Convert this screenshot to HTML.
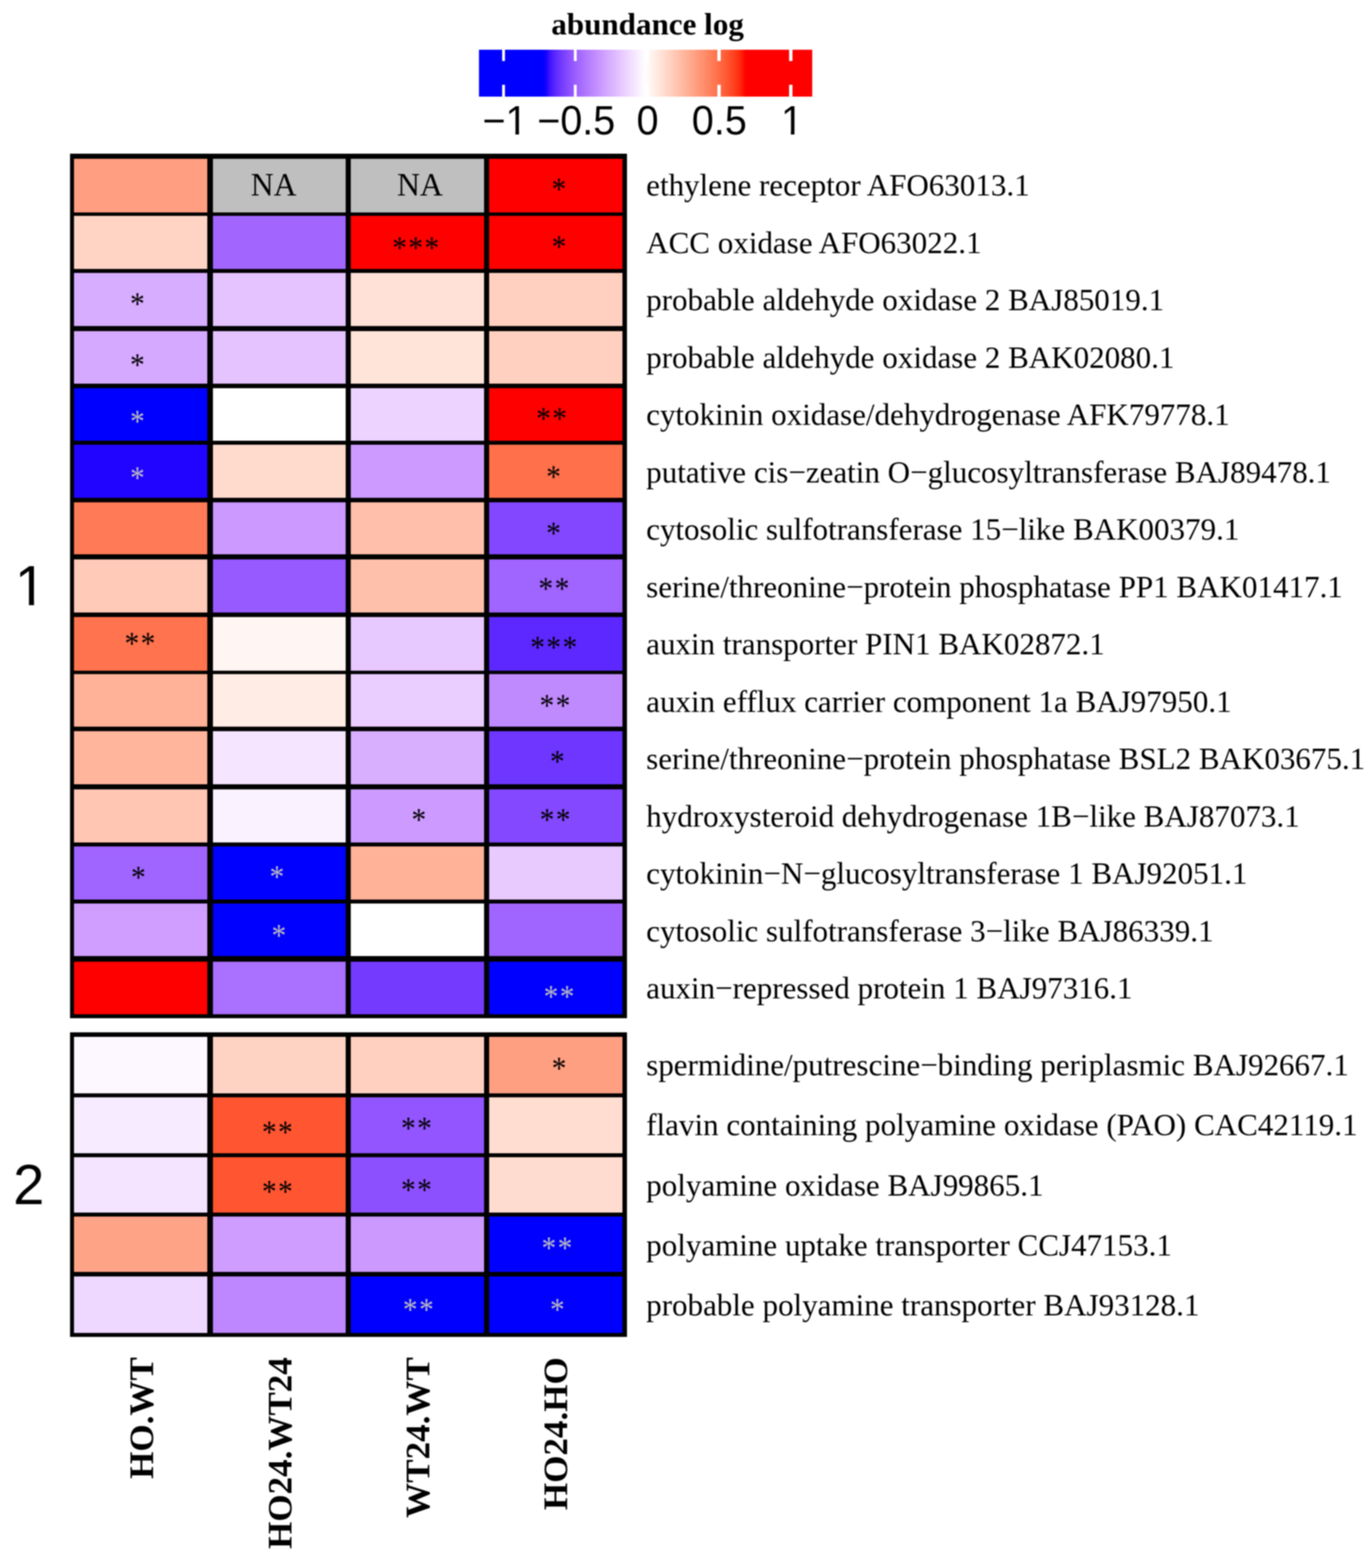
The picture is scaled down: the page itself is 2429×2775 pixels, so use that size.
<!DOCTYPE html>
<html lang="en"><head><meta charset="utf-8"><title>abundance log heatmap</title>
<style>
html,body{margin:0;padding:0;background:#fff}
#fig{position:relative;width:2429px;height:2775px;overflow:hidden;background:#fff;font-family:"Liberation Serif",serif;color:#000;filter:blur(1px)}
#fig div{position:absolute;white-space:pre;line-height:1}
.l{background:#000}
.t{background:#fff;width:5.6px}
.r{font-size:54.95px;left:1144px}
.s{letter-spacing:2.6px;margin-left:1.3px;font-size:52px;transform-origin:50% 36.60%;transform:translateX(-50%) scaleY(1.1)}
.y{color:#BEBEBE}
.n{font-size:56px;transform:translateX(-50%)}
.k{font-size:62px;font-weight:bold;transform-origin:0 0;transform:rotate(-90deg) translateX(-100%)}
.g{font-family:"Liberation Sans",sans-serif;font-size:70px;transform-origin:50% 84.67%;transform:translateX(-50%) scaleY(1.03)}
.h{font-family:"Liberation Sans",sans-serif;font-size:99.5px;transform:translateX(-50%)}
.a{font-size:55px;font-weight:bold;transform:translateX(-50%)}
.o{display:inline-block;clip-path:polygon(0 0,100% 0,100% 76%,61.3% 76%,61.3% 100%,45% 100%,45% 76%,0 76%)}
</style></head><body><div id="fig">
<section aria-label="legend">
<div style="left:847.8px;top:87.5px;width:590.1px;height:83.5px;background:linear-gradient(to right,#0000FF 0%,#0000FF 1.25%,#0000FF 2.5%,#0000FF 3.75%,#0000FF 5%,#0000FF 6.25%,#0000FF 7.5%,#0000FF 8.75%,#0000FF 10%,#0000FF 11.25%,#0000FF 12.5%,#0000FF 13.75%,#0000FF 15%,#0000FF 16.25%,#0000FF 17.5%,#0000FF 18.75%,#0E01FF 20%,#3D14FF 21.25%,#5523FF 22.5%,#6731FF 23.75%,#763DFF 25%,#8347FF 26.25%,#8F52FF 27.5%,#995DFF 28.75%,#A267FF 30%,#AB71FF 31.25%,#B37BFF 32.5%,#BB84FF 33.75%,#C28EFF 35%,#C997FF 36.25%,#CFA0FF 37.5%,#D5ABFF 38.75%,#DCB3FF 40%,#E0BDFF 41.25%,#E6C7FF 42.5%,#EBD0FF 43.75%,#F0DAFF 45%,#F4E3FF 46.25%,#F7EDFF 47.5%,#FCF6FF 48.75%,#FFFEFE 50%,#FFF7F3 51.25%,#FFEFE9 52.5%,#FFE8DF 53.75%,#FFE0D4 55%,#FFD8CA 56.25%,#FFD0BF 57.5%,#FFC8B5 58.75%,#FFC0AB 60%,#FFB89F 61.25%,#FFB095 62.5%,#FFA88B 63.75%,#FF9F81 65%,#FF9676 66.25%,#FF8E6C 67.5%,#FF8562 68.75%,#FF7C58 70%,#FF734D 71.25%,#FF6842 72.5%,#FF5E38 73.75%,#FF522D 75%,#FF4421 76.25%,#FF3516 77.5%,#FF2107 78.75%,#FF0000 80%,#FF0000 81.25%,#FF0000 82.5%,#FF0000 83.75%,#FF0000 85%,#FF0000 86.25%,#FF0000 87.5%,#FF0000 88.75%,#FF0000 90%,#FF0000 91.25%,#FF0000 92.5%,#FF0000 93.75%,#FF0000 95%,#FF0000 96.25%,#FF0000 97.5%,#FF0000 98.75%,#FF0000 100%)"></div>
<div class="t" style="left:888.7px;top:87.5px;height:20.5px"></div>
<div class="t" style="left:888.7px;top:150px;height:21px"></div>
<div class="g" style="left:894px;top:179.33px">−<span class="o">1</span></div>
<div class="t" style="left:1015.85px;top:87.5px;height:20.5px"></div>
<div class="t" style="left:1015.85px;top:150px;height:21px"></div>
<div class="g" style="left:1020.15px;top:179.33px">−0.5</div>
<div class="t" style="left:1143px;top:87.5px;height:20.5px"></div>
<div class="t" style="left:1143px;top:150px;height:21px"></div>
<div class="g" style="left:1146.5px;top:179.33px">0</div>
<div class="t" style="left:1270.15px;top:87.5px;height:20.5px"></div>
<div class="t" style="left:1270.15px;top:150px;height:21px"></div>
<div class="g" style="left:1273.45px;top:179.33px">0.5</div>
<div class="t" style="left:1397.3px;top:87.5px;height:20.5px"></div>
<div class="t" style="left:1397.3px;top:150px;height:21px"></div>
<div class="g" style="left:1402.1px;top:179.33px"><span class="o">1</span></div>
<div class="a" style="left:1146.5px;top:14.94px">abundance log</div>
</section>
<section aria-label="heatmap cells">
<div style="left:127.3px;top:276.5px;width:244.5px;height:102.65px;background:#FF9E81"></div>
<div style="left:371.8px;top:276.5px;width:245px;height:102.65px;background:#BFBFBF"></div>
<div style="left:616.8px;top:276.5px;width:244.3px;height:102.65px;background:#BFBFBF"></div>
<div style="left:861.1px;top:276.5px;width:244.9px;height:102.65px;background:#FF0000"></div>
<div style="left:127.3px;top:379.15px;width:244.5px;height:100.6px;background:#FFD4C5"></div>
<div style="left:371.8px;top:379.15px;width:245px;height:100.6px;background:#A266FF"></div>
<div style="left:616.8px;top:379.15px;width:244.3px;height:100.6px;background:#FF0000"></div>
<div style="left:861.1px;top:379.15px;width:244.9px;height:100.6px;background:#FF0000"></div>
<div style="left:127.3px;top:479.75px;width:244.5px;height:101.85px;background:#D7ADFF"></div>
<div style="left:371.8px;top:479.75px;width:245px;height:101.85px;background:#E5C3FF"></div>
<div style="left:616.8px;top:479.75px;width:244.3px;height:101.85px;background:#FFE1D7"></div>
<div style="left:861.1px;top:479.75px;width:244.9px;height:101.85px;background:#FFD0C0"></div>
<div style="left:127.3px;top:581.6px;width:244.5px;height:101.7px;background:#D5A9FF"></div>
<div style="left:371.8px;top:581.6px;width:245px;height:101.7px;background:#E5C3FF"></div>
<div style="left:616.8px;top:581.6px;width:244.3px;height:101.7px;background:#FFE4DA"></div>
<div style="left:861.1px;top:581.6px;width:244.9px;height:101.7px;background:#FFD0C0"></div>
<div style="left:127.3px;top:683.3px;width:244.5px;height:100.15px;background:#0000FF"></div>
<div style="left:371.8px;top:683.3px;width:245px;height:100.15px;background:#FFFFFF"></div>
<div style="left:616.8px;top:683.3px;width:244.3px;height:100.15px;background:#EDD3FF"></div>
<div style="left:861.1px;top:683.3px;width:244.9px;height:100.15px;background:#FF0000"></div>
<div style="left:127.3px;top:783.45px;width:244.5px;height:101.55px;background:#2004FF"></div>
<div style="left:371.8px;top:783.45px;width:245px;height:101.55px;background:#FFDBCE"></div>
<div style="left:616.8px;top:783.45px;width:244.3px;height:101.55px;background:#CD9BFF"></div>
<div style="left:861.1px;top:783.45px;width:244.9px;height:101.55px;background:#FF704B"></div>
<div style="left:127.3px;top:885px;width:244.5px;height:100.9px;background:#FF7B57"></div>
<div style="left:371.8px;top:885px;width:245px;height:100.9px;background:#CB99FF"></div>
<div style="left:616.8px;top:885px;width:244.3px;height:100.9px;background:#FFBFAA"></div>
<div style="left:861.1px;top:885px;width:244.9px;height:100.9px;background:#8347FF"></div>
<div style="left:127.3px;top:985.9px;width:244.5px;height:101.9px;background:#FFCAB8"></div>
<div style="left:371.8px;top:985.9px;width:245px;height:101.9px;background:#965AFF"></div>
<div style="left:616.8px;top:985.9px;width:244.3px;height:101.9px;background:#FFC0AB"></div>
<div style="left:861.1px;top:985.9px;width:244.9px;height:101.9px;background:#A064FF"></div>
<div style="left:127.3px;top:1087.8px;width:244.5px;height:101.8px;background:#FF734E"></div>
<div style="left:371.8px;top:1087.8px;width:245px;height:101.8px;background:#FFF5F2"></div>
<div style="left:616.8px;top:1087.8px;width:244.3px;height:101.8px;background:#E8C9FF"></div>
<div style="left:861.1px;top:1087.8px;width:244.9px;height:101.8px;background:#5C28FF"></div>
<div style="left:127.3px;top:1189.6px;width:244.5px;height:100.65px;background:#FFB298"></div>
<div style="left:371.8px;top:1189.6px;width:245px;height:100.65px;background:#FFECE4"></div>
<div style="left:616.8px;top:1189.6px;width:244.3px;height:100.65px;background:#EACEFF"></div>
<div style="left:861.1px;top:1189.6px;width:244.9px;height:100.65px;background:#C08AFF"></div>
<div style="left:127.3px;top:1290.25px;width:244.5px;height:102.25px;background:#FFB59C"></div>
<div style="left:371.8px;top:1290.25px;width:245px;height:102.25px;background:#F5E5FF"></div>
<div style="left:616.8px;top:1290.25px;width:244.3px;height:102.25px;background:#D8AEFF"></div>
<div style="left:861.1px;top:1290.25px;width:244.9px;height:102.25px;background:#6E36FF"></div>
<div style="left:127.3px;top:1392.5px;width:244.5px;height:102px;background:#FFC6B3"></div>
<div style="left:371.8px;top:1392.5px;width:245px;height:102px;background:#FAF2FF"></div>
<div style="left:616.8px;top:1392.5px;width:244.3px;height:102px;background:#CD9BFF"></div>
<div style="left:861.1px;top:1392.5px;width:244.9px;height:102px;background:#8449FF"></div>
<div style="left:127.3px;top:1494.5px;width:244.5px;height:101.15px;background:#A064FF"></div>
<div style="left:371.8px;top:1494.5px;width:245px;height:101.15px;background:#0000FF"></div>
<div style="left:616.8px;top:1494.5px;width:244.3px;height:101.15px;background:#FFB298"></div>
<div style="left:861.1px;top:1494.5px;width:244.9px;height:101.15px;background:#E8CAFF"></div>
<div style="left:127.3px;top:1595.65px;width:244.5px;height:101.55px;background:#CF9EFF"></div>
<div style="left:371.8px;top:1595.65px;width:245px;height:101.55px;background:#0000FF"></div>
<div style="left:616.8px;top:1595.65px;width:244.3px;height:101.55px;background:#FFFFFF"></div>
<div style="left:861.1px;top:1595.65px;width:244.9px;height:101.55px;background:#A165FF"></div>
<div style="left:127.3px;top:1697.2px;width:244.5px;height:101.55px;background:#FF0000"></div>
<div style="left:371.8px;top:1697.2px;width:245px;height:101.55px;background:#AA70FF"></div>
<div style="left:616.8px;top:1697.2px;width:244.3px;height:101.55px;background:#743BFF"></div>
<div style="left:861.1px;top:1697.2px;width:244.9px;height:101.55px;background:#0000FF"></div>
<div style="left:127.3px;top:1831.1px;width:244.5px;height:107.05px;background:#FDF7FF"></div>
<div style="left:371.8px;top:1831.1px;width:245px;height:107.05px;background:#FFD3C4"></div>
<div style="left:616.8px;top:1831.1px;width:244.3px;height:107.05px;background:#FFD0C0"></div>
<div style="left:861.1px;top:1831.1px;width:244.9px;height:107.05px;background:#FF9F82"></div>
<div style="left:127.3px;top:1938.15px;width:244.5px;height:105.95px;background:#F7EBFF"></div>
<div style="left:371.8px;top:1938.15px;width:245px;height:105.95px;background:#FF5531"></div>
<div style="left:616.8px;top:1938.15px;width:244.3px;height:105.95px;background:#9255FF"></div>
<div style="left:861.1px;top:1938.15px;width:244.9px;height:105.95px;background:#FFDDD1"></div>
<div style="left:127.3px;top:2044.1px;width:244.5px;height:105.2px;background:#F4E4FF"></div>
<div style="left:371.8px;top:2044.1px;width:245px;height:105.2px;background:#FF5531"></div>
<div style="left:616.8px;top:2044.1px;width:244.3px;height:105.2px;background:#8D50FF"></div>
<div style="left:861.1px;top:2044.1px;width:244.9px;height:105.2px;background:#FFDCD0"></div>
<div style="left:127.3px;top:2149.3px;width:244.5px;height:105.7px;background:#FFA387"></div>
<div style="left:371.8px;top:2149.3px;width:245px;height:105.7px;background:#CE9DFF"></div>
<div style="left:616.8px;top:2149.3px;width:244.3px;height:105.7px;background:#CC9AFF"></div>
<div style="left:861.1px;top:2149.3px;width:244.9px;height:105.7px;background:#0000FF"></div>
<div style="left:127.3px;top:2255px;width:244.5px;height:107.35px;background:#EFD8FF"></div>
<div style="left:371.8px;top:2255px;width:245px;height:107.35px;background:#BE87FF"></div>
<div style="left:616.8px;top:2255px;width:244.3px;height:107.35px;background:#0000FF"></div>
<div style="left:861.1px;top:2255px;width:244.9px;height:107.35px;background:#0000FF"></div>
</section>
<section aria-label="grid lines">
<div class="l" style="left:124px;top:272px;width:986px;height:9px"></div>
<div class="l" style="left:124px;top:376px;width:986px;height:6px"></div>
<div class="l" style="left:124px;top:476px;width:986px;height:7px"></div>
<div class="l" style="left:124px;top:577px;width:986px;height:9px"></div>
<div class="l" style="left:124px;top:679px;width:986px;height:8px"></div>
<div class="l" style="left:124px;top:780px;width:986px;height:7px"></div>
<div class="l" style="left:124px;top:881px;width:986px;height:8px"></div>
<div class="l" style="left:124px;top:981px;width:986px;height:9px"></div>
<div class="l" style="left:124px;top:1084px;width:986px;height:8px"></div>
<div class="l" style="left:124px;top:1187px;width:986px;height:6px"></div>
<div class="l" style="left:124px;top:1286px;width:986px;height:8px"></div>
<div class="l" style="left:124px;top:1388px;width:986px;height:9px"></div>
<div class="l" style="left:124px;top:1491px;width:986px;height:7px"></div>
<div class="l" style="left:124px;top:1592px;width:986px;height:7px"></div>
<div class="l" style="left:124px;top:1692px;width:986px;height:10px"></div>
<div class="l" style="left:124px;top:1795px;width:986px;height:7px"></div>
<div class="l" style="left:124px;top:272px;width:7px;height:1530px"></div>
<div class="l" style="left:367px;top:272px;width:10px;height:1530px"></div>
<div class="l" style="left:612px;top:272px;width:9px;height:1530px"></div>
<div class="l" style="left:857px;top:272px;width:9px;height:1530px"></div>
<div class="l" style="left:1102px;top:272px;width:8px;height:1530px"></div>
<div class="l" style="left:124px;top:1827px;width:986px;height:8px"></div>
<div class="l" style="left:124px;top:1935px;width:986px;height:7px"></div>
<div class="l" style="left:124px;top:2041px;width:986px;height:7px"></div>
<div class="l" style="left:124px;top:2146px;width:986px;height:7px"></div>
<div class="l" style="left:124px;top:2251px;width:986px;height:8px"></div>
<div class="l" style="left:124px;top:2359px;width:986px;height:7px"></div>
<div class="l" style="left:124px;top:1827px;width:7px;height:539px"></div>
<div class="l" style="left:367px;top:1827px;width:10px;height:539px"></div>
<div class="l" style="left:612px;top:1827px;width:9px;height:539px"></div>
<div class="l" style="left:857px;top:1827px;width:9px;height:539px"></div>
<div class="l" style="left:1102px;top:1827px;width:8px;height:539px"></div>
</section>
<section aria-label="row labels">
<div class="r" style="top:301.23px">ethylene receptor AFO63013.1</div>
<div class="r" style="top:402.73px">ACC oxidase AFO63022.1</div>
<div class="r" style="top:504.23px">probable aldehyde oxidase 2 BAJ85019.1</div>
<div class="r" style="top:605.73px">probable aldehyde oxidase 2 BAK02080.1</div>
<div class="r" style="top:707.23px">cytokinin oxidase/dehydrogenase AFK79778.1</div>
<div class="r" style="top:808.73px">putative cis−zeatin O−glucosyltransferase BAJ89478.1</div>
<div class="r" style="top:910.23px">cytosolic sulfotransferase 15−like BAK00379.1</div>
<div class="r" style="top:1011.73px">serine/threonine−protein phosphatase PP1 BAK01417.1</div>
<div class="r" style="top:1113.23px">auxin transporter PIN1 BAK02872.1</div>
<div class="r" style="top:1214.73px">auxin efflux carrier component 1a BAJ97950.1</div>
<div class="r" style="top:1316.23px">serine/threonine−protein phosphatase BSL2 BAK03675.1</div>
<div class="r" style="top:1417.73px">hydroxysteroid dehydrogenase 1B−like BAJ87073.1</div>
<div class="r" style="top:1519.23px">cytokinin−N−glucosyltransferase 1 BAJ92051.1</div>
<div class="r" style="top:1620.73px">cytosolic sulfotransferase 3−like BAJ86339.1</div>
<div class="r" style="top:1722.23px">auxin−repressed protein 1 BAJ97316.1</div>
<div class="r" style="top:1858.13px">spermidine/putrescine−binding periplasmic BAJ92667.1</div>
<div class="r" style="top:1964.43px">flavin containing polyamine oxidase (PAO) CAC42119.1</div>
<div class="r" style="top:2070.73px">polyamine oxidase BAJ99865.1</div>
<div class="r" style="top:2177.03px">polyamine uptake transporter CCJ47153.1</div>
<div class="r" style="top:2283.33px">probable polyamine transporter BAJ93128.1</div>
</section>
<section aria-label="cell annotations">
<div class="n" style="left:484.4px;top:298.61px">NA</div>
<div class="n" style="left:743.4px;top:298.61px">NA</div>
<div class="s" style="left:989.4px;top:308.97px">*</div>
<div class="s" style="left:736px;top:412.97px">***</div>
<div class="s" style="left:989.7px;top:410.97px">*</div>
<div class="s" style="left:243.3px;top:511.57px">*</div>
<div class="s" style="left:243.3px;top:619.97px">*</div>
<div class="s y" style="left:243.3px;top:719.97px">*</div>
<div class="s" style="left:976.5px;top:714.97px">**</div>
<div class="s y" style="left:243.3px;top:819.97px">*</div>
<div class="s" style="left:980px;top:817.67px">*</div>
<div class="s" style="left:980px;top:917.67px">*</div>
<div class="s" style="left:980.6px;top:1016.47px">**</div>
<div class="s" style="left:247.7px;top:1113.27px">**</div>
<div class="s" style="left:980.3px;top:1119.97px">***</div>
<div class="s" style="left:982.5px;top:1222.97px">**</div>
<div class="s" style="left:986.7px;top:1322.37px">*</div>
<div class="s" style="left:741.4px;top:1425.37px">*</div>
<div class="s" style="left:982.8px;top:1425.47px">**</div>
<div class="s" style="left:245px;top:1527.37px">*</div>
<div class="s y" style="left:490.3px;top:1525.97px">*</div>
<div class="s y" style="left:493.75px;top:1629.97px">*</div>
<div class="s y" style="left:989.8px;top:1737.57px">**</div>
<div class="s" style="left:989.7px;top:1865.17px">*</div>
<div class="s" style="left:491px;top:1978.27px">**</div>
<div class="s" style="left:737.2px;top:1971.47px">**</div>
<div class="s" style="left:491px;top:2082.67px">**</div>
<div class="s" style="left:737.2px;top:2079.87px">**</div>
<div class="s y" style="left:986px;top:2182.67px">**</div>
<div class="s y" style="left:740.6px;top:2292.22px">**</div>
<div class="s y" style="left:986.7px;top:2292.22px">*</div>
</section>
<section aria-label="column labels">
<div class="k" style="left:219.38px;top:2402px">HO.WT</div>
<div class="k" style="left:463.68px;top:2402px">HO24.WT24</div>
<div class="k" style="left:708.28px;top:2402px">WT24.WT</div>
<div class="k" style="left:952.48px;top:2402px">HO24.HO</div>
</section>
<section aria-label="slice titles">
<div class="h" style="left:54px;top:987.05px"><span class="o">1</span></div>
<div class="h" style="left:51px;top:2047.35px">2</div>
</section>
</div></body></html>
